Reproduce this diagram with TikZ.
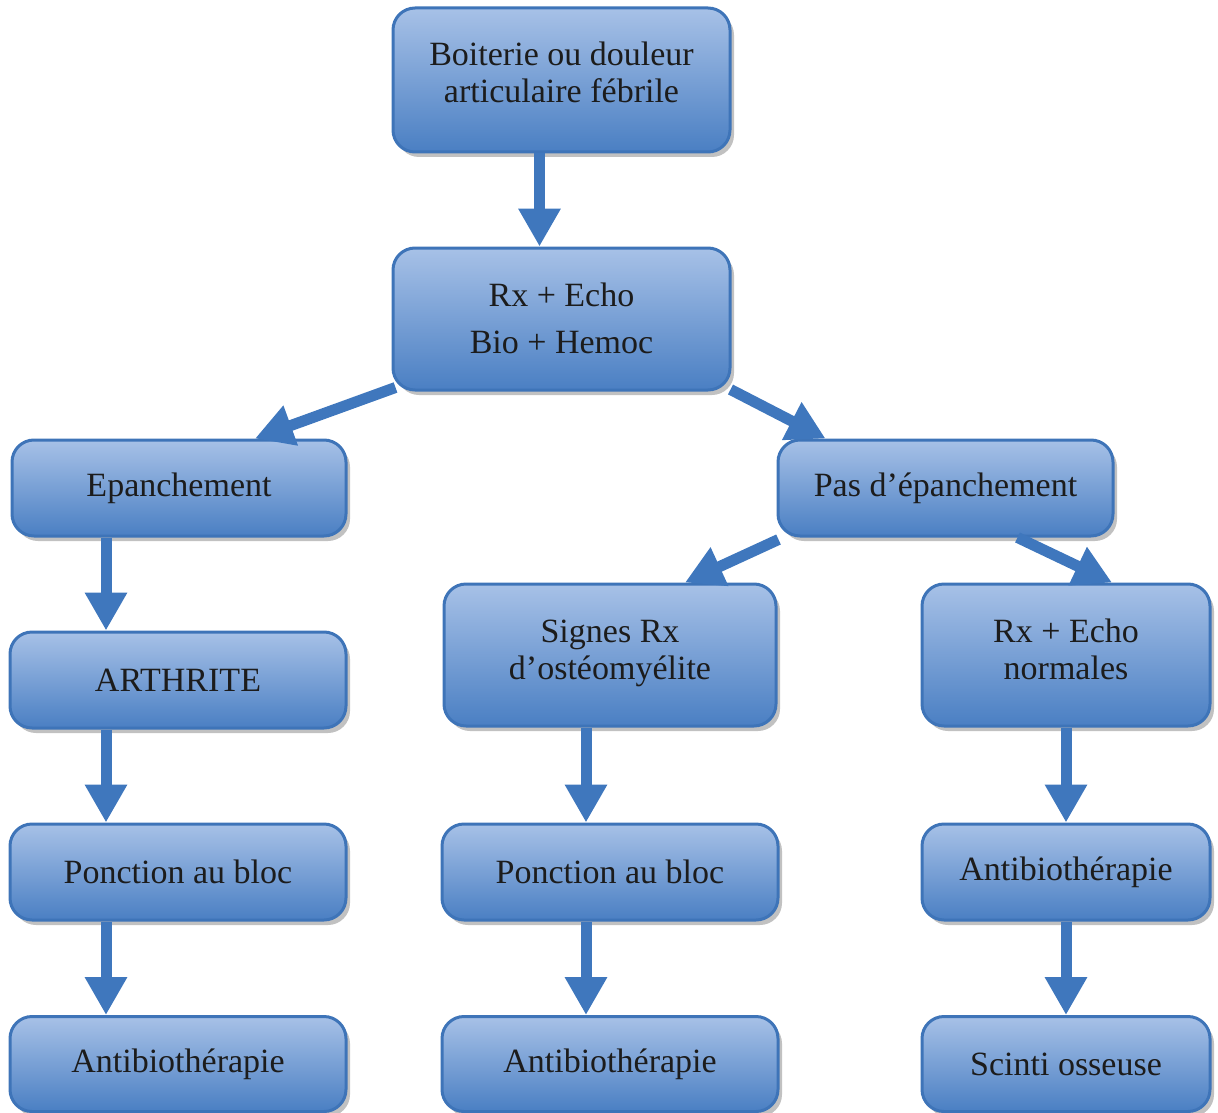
\documentclass[tikz,border=0pt]{standalone}
\usepackage{fontspec}
\setmainfont{Liberation Serif}
\usetikzlibrary{arrows.meta,shadows,calc}
\definecolor{boxtop}{HTML}{A7C1E7}
\definecolor{boxbot}{HTML}{4A7FC3}
\definecolor{boxline}{HTML}{3E74B8}
\definecolor{arrowc}{HTML}{3F77BD}
\definecolor{txt}{HTML}{1C1C1C}
\tikzset{
  box/.style={rounded corners=22pt, line width=3pt, draw=boxline,
    top color=boxtop, bottom color=boxbot, inner sep=0pt, align=center,
    text=txt, font=\fontsize{34}{37}\selectfont,
    drop shadow={shadow xshift=4pt, shadow yshift=-5pt, opacity=0.35, fill=black!70}},
  twoline/.style={text height=66pt, text depth=18pt},
  arr/.style={line width=11pt, draw=arrowc, line cap=butt,
    -{Triangle[width=40pt,length=38pt]}}
}
\begin{document}
\begin{tikzpicture}[x=1pt,y=-1pt]
\useasboundingbox (0,0) rectangle (1218,1113);
\node[box, twoline, text depth=20pt, minimum width=337pt, minimum height=144pt] (n1) at (561.5,80) {Boiterie ou douleur\\articulaire fébrile};
\node[box, text height=80pt, text depth=12pt, minimum width=337pt, minimum height=142pt] (n2) at (561.5,319) {Rx + Echo\\[10pt]Bio + Hemoc};
\node[box, minimum width=334pt, minimum height=96pt] (n3) at (179,488) {Epanchement};
\node[box, minimum width=335pt, minimum height=96pt] (n4) at (945.5,488) {Pas d’épanchement};
\node[box, minimum width=336pt, minimum height=96pt] (n5) at (178,680) {ARTHRITE};
\node[box, twoline, minimum width=332pt, minimum height=142pt] (n6) at (610,655) {Signes Rx\\d’ostéomyélite};
\node[box, twoline, minimum width=288pt, minimum height=142pt] (n7) at (1066,655) {Rx + Echo\\normales};
\node[box, minimum width=336pt, minimum height=96pt] (n8) at (178,872) {Ponction au bloc};
\node[box, minimum width=336pt, minimum height=96pt] (n9) at (610,872) {Ponction au bloc};
\node[box, minimum width=288pt, minimum height=96pt] (n10) at (1066,872) {Antibiothérapie};
\node[box, minimum width=336pt, minimum height=95pt] (n11) at (178,1064) {Antibiothérapie};
\node[box, minimum width=336pt, minimum height=95pt] (n12) at (610,1064) {Antibiothérapie};
\node[box, minimum width=288pt, minimum height=95pt] (n13) at (1066,1064) {Scinti osseuse};
% arrows
\draw[arr] ([xshift=-22pt]n1.south) -- ([xshift=-22pt]n2.north);
\draw[arr] ([shift={(4pt,4pt)}]n2.south west) -- ([xshift=76pt]n3.north);
\draw[arr] ([shift={(-1pt,2pt)}]n2.south east) -- ([xshift=-120pt]n4.north);
\draw[arr] ([shift={(2pt,-2pt)}]n4.south west) -- ([xshift=75pt]n6.north);
\draw[arr] ([xshift=72pt]n4.south) -- ([xshift=46pt]n7.north);
\draw[arr] ([xshift=-73pt]n3.south) -- ([xshift=-72pt]n5.north);
\draw[arr] ([xshift=-72pt]n5.south) -- ([xshift=-72pt]n8.north);
\draw[arr] ([xshift=-72pt]n8.south) -- ([xshift=-72pt]n11.north);
\draw[arr] ([xshift=-24pt]n6.south) -- ([xshift=-24pt]n9.north);
\draw[arr] ([xshift=-24pt]n9.south) -- ([xshift=-24pt]n12.north);
\draw[arr] (n7.south) -- (n10.north);
\draw[arr] (n10.south) -- (n13.north);
\end{tikzpicture}
\end{document}
